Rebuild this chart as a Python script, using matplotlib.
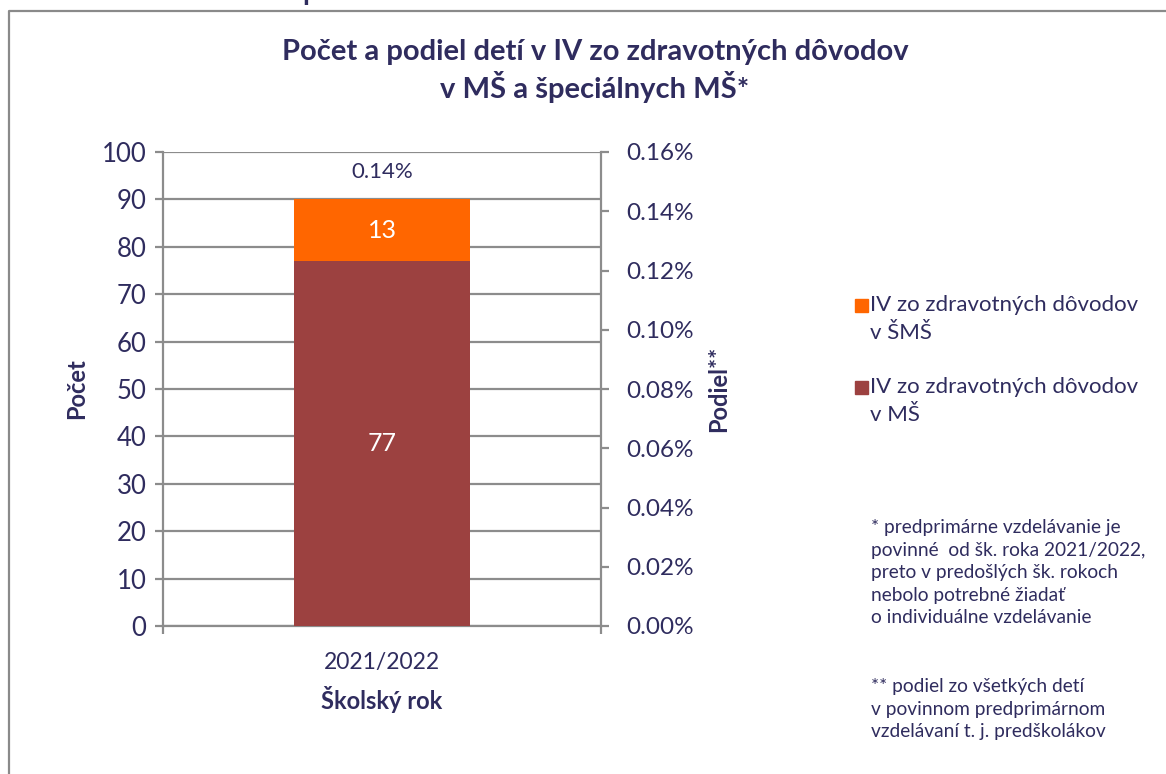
import matplotlib.pyplot as plt
from matplotlib.lines import Line2D
from matplotlib.patches import Rectangle
import numpy as np

plt.rcParams['font.family'] = ['Lato', 'DejaVu Sans']

# data
years = ['2021/2022']
iv_ms = [77]    # IV zo zdravotných dôvodov v MŠ
iv_sms = [13]   # IV zo zdravotných dôvodov v ŠMŠ
share = [0.14]  # podiel v %

series_labels = ['IV zo zdravotných dôvodov\nv ŠMŠ', 'IV zo zdravotných dôvodov\nv MŠ']
series_colors = ['#ff6600', '#9c4140']

navy = '#2f2c5e'
grid_c = '#8c8c8c'

W, H = 1166, 774
fig = plt.figure(figsize=(W / 100, H / 100), dpi=100)

# chart frame (cut off on the right and bottom)
fig.add_artist(Line2D([9 / W, 9 / W, 1.0], [0.0, 1 - 11 / H, 1 - 11 / H],
                      transform=fig.transFigure, color='#8a8a8a', lw=1.6))
# bit of text from above the chart
fig.text(302 / W, 1.0, 'p', ha='left', va='baseline', fontsize=20,
         fontweight='bold', color=navy)

ax = fig.add_axes([163 / W, 1 - 626 / H, (601 - 163) / W, (626 - 152) / H])
x = np.arange(len(years))
b1 = ax.bar(x, iv_ms, width=0.402, color=series_colors[1], zorder=3)
b2 = ax.bar(x, iv_sms, width=0.402, bottom=iv_ms, color=series_colors[0], zorder=3)
for rect, v in zip(b1, iv_ms):
    ax.text(rect.get_x() + rect.get_width() / 2, rect.get_y() + rect.get_height() / 2,
            str(v), ha='center', va='center', color='white', fontsize=18)
for rect, v in zip(b2, iv_sms):
    ax.text(rect.get_x() + rect.get_width() / 2, rect.get_y() + rect.get_height() / 2,
            str(v), ha='center', va='center', color='white', fontsize=18)

ax.set_xlim(-0.5, 0.5)
ax.set_ylim(0, 100)
ax.set_yticks(np.arange(0, 101, 10))
ax.grid(axis='y', color=grid_c, lw=1.6, zorder=0)
ax.set_xticks(x)
ax.set_xticklabels(years)
ax.set_xticks([-0.5, 0.5], minor=True)
ax.tick_params(axis='x', which='major', length=0, pad=19, labelsize=16.5, labelcolor=navy)
ax.tick_params(axis='x', which='minor', length=6, width=1.6, color=grid_c)
ax.tick_params(axis='y', length=6, width=1.6, color=grid_c, pad=6, labelsize=18.5, labelcolor=navy)
for s in ['left', 'bottom']:
    ax.spines[s].set_color(grid_c)
    ax.spines[s].set_linewidth(1.6)
ax.spines['top'].set_visible(False)
ax.spines['right'].set_visible(False)
ax.set_ylabel('Počet', fontsize=17, fontweight='bold', color=navy, labelpad=10)
ax.set_xlabel('Školský rok', fontsize=17, fontweight='bold', color=navy, labelpad=9)

ax2 = ax.twinx()
ax2.set_ylim(0, 0.16)
ax2.set_yticks(np.arange(0, 0.161, 0.02))
ax2.set_yticklabels(['%.2f%%' % t for t in np.arange(0, 0.161, 0.02)])
ax2.plot(x, share, ls='none', marker='none')
for xi, v in zip(x, share):
    ax2.annotate('%.2f%%' % v, (xi, v), xytext=(0, 28), textcoords='offset points',
                 ha='center', va='center', fontsize=16, color=navy)
ax2.tick_params(axis='y', length=6, width=1.6, color=grid_c, pad=12, labelsize=17.5, labelcolor=navy)
ax2.spines['right'].set_color(grid_c)
ax2.spines['right'].set_linewidth(1.6)
for s in ['left', 'top', 'bottom']:
    ax2.spines[s].set_visible(False)
ax2.set_ylabel('Podiel**', fontsize=17, fontweight='bold', color=navy, labelpad=10)

# title
fig.text(595 / W, 1 - 71 / H, 'Počet a podiel detí v IV zo zdravotných dôvodov\nv MŠ a špeciálnych MŠ*',
         ha='center', va='center', fontsize=21, fontweight='bold', color=navy, linespacing=1.25)

# legend
leg_y = [305, 387]
for yy, lab, col in zip(leg_y, series_labels, series_colors):
    fig.add_artist(Rectangle((855 / W, 1 - (yy + 7) / H), 13 / W, 13 / H,
                             transform=fig.transFigure, color=col))
    fig.text(870 / W, 1 - (yy - 10) / H, lab, ha='left', va='top', fontsize=16,
             color=navy, linespacing=1.5)

# notes
fig.text(871 / W, 1 - 519 / H,
         '* predprimárne vzdelávanie je\npovinné  od šk. roka 2021/2022,\n'
         'preto v predošlých šk. rokoch\nnebolo potrebné žiadať\no individuálne vzdelávanie',
         ha='left', va='top', fontsize=13.8, color=navy, linespacing=1.4)
fig.text(871 / W, 1 - 678 / H,
         '** podiel zo všetkých detí\nv povinnom predprimárnom\nvzdelávaní t. j. predškolákov',
         ha='left', va='top', fontsize=13.8, color=navy, linespacing=1.4)

fig.savefig('out.png', dpi=100)
